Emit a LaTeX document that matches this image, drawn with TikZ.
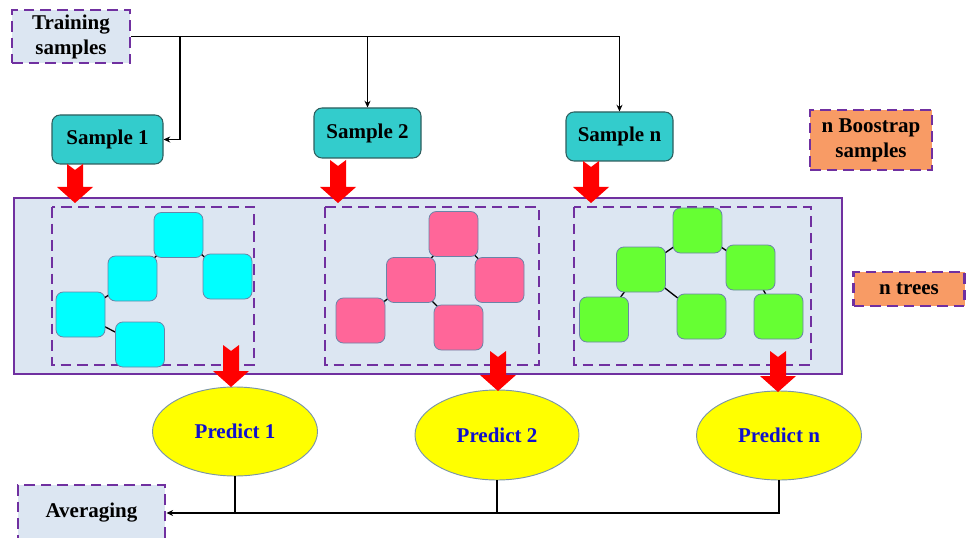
\documentclass[tikz,border=0pt]{standalone}
\usepackage{fontspec}
\setmainfont{Liberation Serif}
\usetikzlibrary{arrows.meta,calc,shapes.geometric}
\definecolor{purp}{HTML}{7030A0}
\definecolor{lblue}{HTML}{DCE6F2}
\definecolor{tealc}{HTML}{33CCCC}
\definecolor{tealb}{HTML}{2E5E5E}
\definecolor{orng}{HTML}{F89B65}
\definecolor{cyanc}{HTML}{00FFFF}
\definecolor{pinkc}{HTML}{FF6699}
\definecolor{greenc}{HTML}{66FF33}
\definecolor{tborder}{HTML}{6A84A8}
\definecolor{yel}{HTML}{FFFF00}
\definecolor{predtxt}{HTML}{1010CC}
\definecolor{ellb}{HTML}{7A95A8}
\newcommand\blockarr[3]{%
  \fill[red] (#1-8,#2) -- (#1,#2+6) -- (#1+8,#2) -- (#1+8,#3-16) -- (#1+18,#3-16)
    -- (#1,#3) -- (#1-18,#3-16) -- (#1-8,#3-16) -- cycle;}
\begin{document}
\begin{tikzpicture}[x=0.75pt,y=-0.75pt,
  lbl/.style={font=\fontsize{15.75}{18.75}\selectfont\bfseries, align=center, inner sep=0pt},
  dbox/.style={lbl, draw=purp, line width=2.2pt, dash pattern=on 8pt off 4.5pt},
  sbox/.style={lbl, draw=tealb, fill=tealc, rounded corners=6pt, line width=0.8pt},
  tnode/.style={rounded corners=5.5pt, draw=tborder, line width=0.6pt, minimum width=36.75pt, minimum height=33.75pt, inner sep=0pt},
  pred/.style={lbl, ellipse, draw=ellb, fill=yel, line width=0.7pt, text=predtxt},
  conn/.style={draw=black, line width=1.1pt},
  arr/.style={conn, -{Stealth[length=5pt,width=4.5pt]}},
  tedge/.style={draw=black, line width=1pt},
  dashin/.style={draw=purp, line width=2.2pt, dash pattern=on 8pt off 4.5pt}
]
\useasboundingbox (0,0) rectangle (966,538);

% top nodes
\node[dbox, fill=lblue, minimum width=88.5pt, minimum height=39.75pt] (train) at (71,36.5) {Training\\samples};
\node[sbox, minimum width=83.25pt, minimum height=36.75pt] (s1) at (107.5,139.5) {Sample 1};
\node[sbox, minimum width=80.25pt, minimum height=37.5pt] (s2) at (367.5,133) {Sample 2};
\node[sbox, minimum width=80.25pt, minimum height=36.75pt] (sn) at (619.5,136.5) {Sample n};
\node[dbox, fill=orng, minimum width=91.5pt, minimum height=45pt] (boot) at (871,140) {n Boostrap\\samples};
\node[dbox, fill=orng, minimum width=83.25pt, minimum height=25.5pt] (ntrees) at (909,289) {n trees};

% connectors from training samples
\coordinate (j1) at (180,37);
\draw[arr] (train.east) -| (sn.north);
\draw[arr] (train.east -| s2.north) -- (s2.north);
\draw[arr] (j1) |- (s1.east);

% big container and dashed tree boxes
\draw[fill=lblue, draw=purp, line width=1.5pt] (14,198) rectangle (842,374);
\draw[dashin] (52,207) rectangle (254,365);
\draw[dashin] (325,207) rectangle (539,365);
\draw[dashin] (574,207) rectangle (811,365);

% tree 1
\coordinate (a1) at (178.5,235);
\coordinate (b1) at (227.5,276.5);
\coordinate (c1) at (132.5,278.5);
\coordinate (d1) at (80.5,314.5);
\coordinate (e1) at (140,344.5);
\draw[tedge] (a1) -- (c1) (a1) -- (b1) (c1) -- (d1) (d1) -- (e1);
\foreach \p in {a1,b1,c1,d1,e1} \node[tnode, fill=cyanc] (n\p) at (\p) {};

% tree 2
\coordinate (a2) at (453.5,234);
\coordinate (b2) at (411,280);
\coordinate (c2) at (499.5,280);
\coordinate (d2) at (360.5,320.5);
\coordinate (e2) at (458.5,327.5);
\draw[tedge] (a2) -- (b2) (a2) -- (c2) (b2) -- (d2) (b2) -- (e2);
\foreach \p in {a2,b2,c2,d2,e2} \node[tnode, fill=pinkc] (n\p) at (\p) {};

% tree 3
\coordinate (a3) at (697.5,230.5);
\coordinate (b3) at (641,269.5);
\coordinate (c3) at (750.5,267.5);
\coordinate (d3) at (604,319.5);
\coordinate (e3) at (701.5,316.5);
\coordinate (f3) at (778.5,316.5);
\draw[tedge] (a3) -- (b3) (a3) -- (c3) (b3) -- (d3) (b3) -- (e3) (c3) -- (f3);
\foreach \p in {a3,b3,c3,d3,e3,f3} \node[tnode, fill=greenc] (n\p) at (\p) {};

% predictions
\node[pred, minimum width=123.75pt, minimum height=66.75pt] (p1) at (235,431.5) {Predict 1};
\node[pred, minimum width=123pt, minimum height=67.5pt] (p2) at (497,435) {Predict 2};
\node[pred, minimum width=123.75pt, minimum height=66.75pt] (pn) at (779,435.5) {Predict n};

% averaging
\node[dbox, fill=lblue, minimum width=110.25pt, minimum height=42pt] (avg) at (91.5,513) {Averaging};
\coordinate (bus) at (0,513);
\draw[conn] (p1.south) -- (p1.south |- bus);
\draw[conn] (p2.south) -- (p2.south |- bus);
\draw[arr] (pn.south) |- (avg.east);

% red block arrows
\blockarr{75}{164}{203}
\blockarr{338}{160}{203}
\blockarr{591}{161}{203}
\blockarr{231}{345}{387}
\blockarr{498}{351}{391}
\blockarr{778}{351}{392}
\end{tikzpicture}
\end{document}
